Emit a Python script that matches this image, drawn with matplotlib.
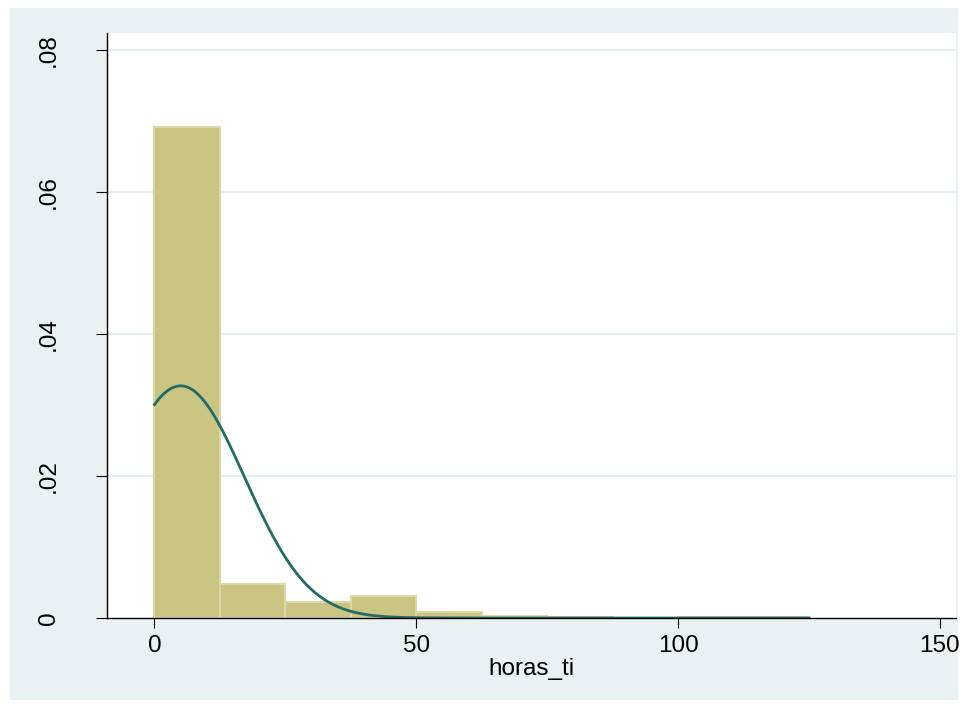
#!/usr/bin/env python3

import numpy as np
import matplotlib
matplotlib.use("Agg")
import matplotlib.pyplot as plt
from matplotlib.patches import Rectangle

# histogram of horas_ti (density, bin width 12.5)
bin_edges = [0, 12.5, 25, 37.5, 50, 62.5, 75, 87.5, 100, 112.5, 125]
density = [0.0692, 0.0048, 0.00225, 0.0031, 0.00087, 0.0003, 0.00008, 0.0, 0.00008, 0.00008]

# normal overlay parameters
norm_mean = 5.0
norm_sd = 12.2
data_min, data_max = 0, 125

x_ticks = [0, 50, 100, 150]
y_ticks = [0, 0.02, 0.04, 0.06, 0.08]
y_tick_labels = ["0", ".02", ".04", ".06", ".08"]
x_label = "horas_ti"

plt.rcParams['font.family'] = ['Liberation Sans', 'DejaVu Sans']

bg = "#eaf1f3"
fig = plt.figure(figsize=(9.68, 7.10), dpi=100)
fig.patch.set_facecolor("white")
fig.patches.append(Rectangle((10 / 968, 1 - 700 / 710), 948 / 968, 692 / 710,
                             transform=fig.transFigure, facecolor=bg, edgecolor="none", zorder=-10))

ax = fig.add_axes([107 / 968, 1 - 618 / 710, 849 / 968, 585 / 710])
ax.set_facecolor("white")

# bars
widths = np.diff(bin_edges)
ax.bar(bin_edges[:-1], density, width=widths, align="edge",
       color="#cbc584", edgecolor="#dcd8a6", linewidth=1.5, zorder=2)

# normal density curve
xs = np.linspace(data_min, data_max, 400)
ys = np.exp(-0.5 * ((xs - norm_mean) / norm_sd) ** 2) / (norm_sd * np.sqrt(2 * np.pi))
ax.plot(xs, ys, color="#236b66", linewidth=2, zorder=3)

ax.set_xlim(-9.07, 153.1)
ax.set_ylim(0, 0.0824)

ax.set_yticks(y_ticks)
ax.set_yticklabels(y_tick_labels, rotation=90, va="center")
ax.set_xticks(x_ticks)
ax.set_xticklabels([str(t) for t in x_ticks])

for y in y_ticks[1:]:
    ax.axhline(y, color="#e6eef1", linewidth=1.5, zorder=1)

for s in ["top", "right"]:
    ax.spines[s].set_visible(False)
for s in ["left", "bottom"]:
    ax.spines[s].set_linewidth(1.0)
    ax.spines[s].set_zorder(4)

ax.tick_params(axis="y", direction="out", length=8, width=0.8, labelsize=17.5, pad=26)
ax.tick_params(axis="x", direction="out", length=7.5, width=0.8, labelsize=17.5, pad=4.5)
ax.set_xlabel(x_label, fontsize=17.5, labelpad=1)

fig.savefig("out.png", dpi=100, facecolor=fig.get_facecolor())
